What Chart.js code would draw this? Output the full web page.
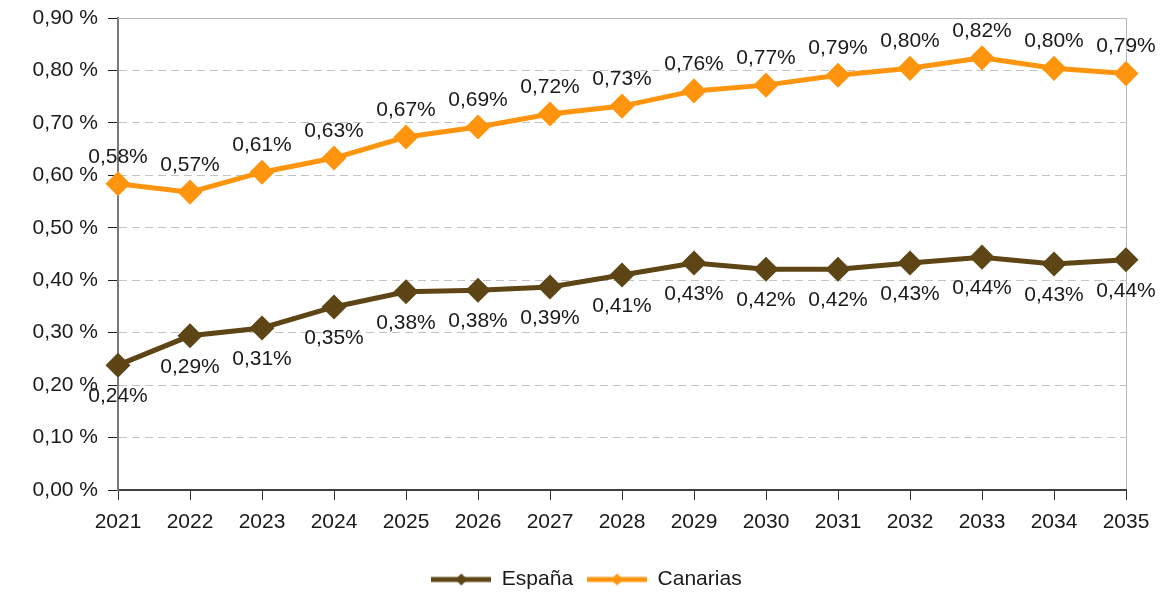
<!DOCTYPE html>
<html>
<head>
<meta charset="utf-8">
<script src="https://cdn.jsdelivr.net/npm/chart.js@4.4.1/dist/chart.umd.min.js"></script>
<style>
html,body{margin:0;padding:0;background:#fff;}
#wrap{width:1173px;height:595px;position:relative;}
</style>
</head>
<body>
<div id="wrap"><canvas id="chart"></canvas></div>
<script>
const years = ['2021','2022','2023','2024','2025','2026','2027','2028','2029','2030','2031','2032','2033','2034','2035'];
const espana = [0.238,0.294,0.309,0.349,0.378,0.381,0.387,0.410,0.433,0.421,0.421,0.433,0.444,0.431,0.439];
const canarias = [0.584,0.568,0.606,0.633,0.673,0.692,0.717,0.732,0.761,0.772,0.791,0.804,0.824,0.804,0.794];
const seriesNames = ['España','Canarias'];
const seriesColors = ['#5e4516','#ff950e'];
const yMin = 0, yMax = 0.9, yStep = 0.1;

const FONT = '"Liberation Sans", Arial, sans-serif';
const FSIZE = 21;

function fmtAxis(v){ return v.toFixed(2).replace('.', ',') + ' %'; }
function fmtLabel(v){ return v.toFixed(2).replace('.', ',') + '%'; }

// legend sample: line with a diamond in the middle
function legendIcon(color){
  const c = document.createElement('canvas');
  c.width = 60; c.height = 14;
  const g = c.getContext('2d');
  g.strokeStyle = color; g.lineWidth = 5;
  g.beginPath(); g.moveTo(0,7); g.lineTo(60,7); g.stroke();
  g.fillStyle = color;
  g.beginPath(); g.moveTo(30,1); g.lineTo(36,7); g.lineTo(30,13); g.lineTo(24,7); g.closePath(); g.fill();
  return c;
}

const frameLines = {
  id: 'frameLines',
  beforeDatasetsDraw(chart){
    const {ctx, chartArea} = chart;
    ctx.save();
    ctx.strokeStyle = '#b8b8b8';
    ctx.lineWidth = 1;
    ctx.beginPath();
    ctx.moveTo(chartArea.left, chartArea.top + 0.5);
    ctx.lineTo(chartArea.right, chartArea.top + 0.5);
    ctx.stroke();
    ctx.restore();
  }
};

const valueLabels = {
  id: 'valueLabels',
  afterDatasetsDraw(chart){
    const ctx = chart.ctx;
    ctx.save();
    ctx.font = FSIZE + 'px ' + FONT;
    ctx.fillStyle = '#1a1a1a';
    ctx.textAlign = 'center';
    ctx.textBaseline = 'middle';
    chart.data.datasets.forEach((ds, i) => {
      const meta = chart.getDatasetMeta(i);
      const off = i === 0 ? 31 : -27;
      meta.data.forEach((pt, j) => {
        ctx.fillText(fmtLabel(ds.data[j]), pt.x, pt.y + off);
      });
    });
    ctx.restore();
  }
};

new Chart(document.getElementById('chart'), {
  type: 'line',
  data: {
    labels: years,
    datasets: [
      {
        label: seriesNames[0],
        data: espana,
        borderColor: seriesColors[0],
        backgroundColor: seriesColors[0],
        borderWidth: 5,
        pointStyle: 'rectRot',
        pointRadius: 9,
        pointHoverRadius: 9,
        tension: 0,
        fill: false
      },
      {
        label: seriesNames[1],
        data: canarias,
        borderColor: seriesColors[1],
        backgroundColor: seriesColors[1],
        borderWidth: 5,
        pointStyle: 'rectRot',
        pointRadius: 9,
        pointHoverRadius: 9,
        tension: 0,
        fill: false
      }
    ]
  },
  options: {
    responsive: true,
    maintainAspectRatio: false,
    animation: false,
    layout: { padding: { left: 0, right: 0, top: 18, bottom: -5 } },
    plugins: {
      legend: {
        position: 'bottom',
        labels: {
          usePointStyle: true,
          pointStyleWidth: 60,
          color: '#1a1a1a',
          font: { family: FONT, size: FSIZE },
          padding: 14,
          generateLabels(chart){
            return chart.data.datasets.map((ds, i) => ({
              text: ds.label,
              pointStyle: legendIcon(seriesColors[i]),
              fillStyle: seriesColors[i],
              strokeStyle: seriesColors[i],
              lineWidth: 0,
              hidden: false,
              datasetIndex: i,
              fontColor: '#1a1a1a'
            }));
          }
        }
      },
      tooltip: { enabled: false }
    },
    scales: {
      x: {
        offset: false,
        grid: {
          drawOnChartArea: true,
          color: (c) => c.index === years.length - 1 ? '#b8b8b8' : 'rgba(0,0,0,0)',
          drawTicks: true,
          tickLength: 10,
          tickColor: '#333',
          tickWidth: 1
        },
        border: { display: true, color: '#404040', width: 2 },
        ticks: {
          color: '#1a1a1a',
          font: { family: FONT, size: FSIZE },
          padding: 10,
          maxRotation: 0,
          autoSkip: false
        },
        afterFit(scale){ scale.height = 65; }
      },
      y: {
        min: yMin,
        max: yMax,
        grid: {
          color: (c) => (c.tick && (c.tick.value < 0.001 || c.tick.value > yMax - 0.001)) ? 'rgba(0,0,0,0)' : '#c3c3c3',
          lineWidth: 1,
          drawTicks: true,
          tickLength: 10,
          tickColor: '#222',
          tickWidth: 1
        },
        border: { display: true, color: '#7a7a7a', width: 2, dash: [8, 5] },
        ticks: {
          stepSize: yStep,
          color: '#1a1a1a',
          font: { family: FONT, size: FSIZE },
          padding: 10,
          callback: (v) => fmtAxis(v)
        },
        afterFit(scale){
          scale.width = 118;
          scale.paddingTop = 18; // tick padding would otherwise push the plot top down
        }
      },
      // empty right-hand box so the plot ends at x=1126 while the legend spans the full width
      yRight: {
        position: 'right',
        display: true,
        grid: { display: false, drawTicks: false },
        border: { display: false },
        ticks: { display: false },
        afterFit(scale){ scale.width = 47; }
      }
    }
  },
  plugins: [frameLines, valueLabels]
});
</script>
</body>
</html>
